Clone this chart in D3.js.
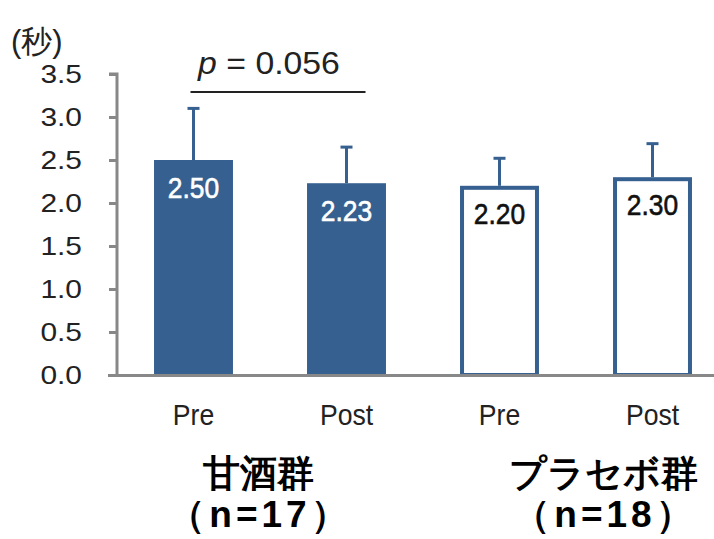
<!DOCTYPE html>
<html>
<head>
<meta charset="utf-8">
<script src="https://cdn.jsdelivr.net/npm/d3@7"></script>
<style>
  html, body { margin: 0; padding: 0; background: #fff; }
  svg { display: block; }
  text { font-family: "Liberation Sans", Arial, sans-serif; }
</style>
</head>
<body>
<svg id="chart" width="714" height="539"></svg>
<script>
// Reaction time (seconds), Pre / Post, per group
const conditions = ["Pre", "Post", "Pre", "Post"];
const groups = ["amazake", "amazake", "placebo", "placebo"];
const means = [2.50, 2.23, 2.20, 2.30];
const sds = [0.60, 0.42, 0.32, 0.39];
const yTicks = [0.0, 0.5, 1.0, 1.5, 2.0, 2.5, 3.0, 3.5];
const groupLabels = [
  { name: "甘酒群", n: "（n=17）", members: [0, 1] },
  { name: "プラセボ群", n: "（n=18）", members: [2, 3] }
];
const pLabel = "0.056";

const blue = "#36608f";
const axisGray = "#888888";

const svg = d3.select("#chart");
const ids = means.map((_, i) => i);

const y = d3.scaleLinear().domain([0, 3.5]).range([375, 74]);
const x = d3.scaleBand().domain(ids)
  .range([117, 117 + 4 * 153])
  .paddingInner(0.484)
  .paddingOuter(0.242);
const cxOf = i => x(i) + x.bandwidth() / 2;

// Bars
svg.append("g").selectAll("rect").data(ids).join("rect")
  .attr("x", i => groups[i] === "amazake" ? x(i) : x(i) + 2)
  .attr("y", i => groups[i] === "amazake" ? y(means[i]) : y(means[i]) + 2)
  .attr("width", i => groups[i] === "amazake" ? x.bandwidth() : x.bandwidth() - 4)
  .attr("height", i => groups[i] === "amazake" ? y(0) - y(means[i]) : y(0) - y(means[i]) - 2)
  .attr("fill", i => groups[i] === "amazake" ? blue : "#fff")
  .attr("stroke", i => groups[i] === "amazake" ? "none" : blue)
  .attr("stroke-width", 4);

// Error bars (upper SD)
const eb = svg.append("g").attr("stroke", blue).attr("stroke-width", 3);
ids.forEach(i => {
  const cx = cxOf(i);
  const top = y(means[i] + sds[i]);
  eb.append("line").attr("x1", cx).attr("x2", cx)
    .attr("y1", y(means[i])).attr("y2", top);
  eb.append("line").attr("x1", cx - 6).attr("x2", cx + 6)
    .attr("y1", top).attr("y2", top);
});

// Value labels inside bars
svg.append("g").selectAll("text").data(ids).join("text")
  .attr("transform", i => `translate(${cxOf(i)},${y(means[i]) + 38}) scale(0.88,1)`)
  .attr("text-anchor", "middle")
  .attr("font-size", 30)
  .attr("fill", i => groups[i] === "amazake" ? "#fff" : "#111")
  .attr("stroke", i => groups[i] === "amazake" ? "#fff" : "#111")
  .attr("stroke-width", 0.6)
  .text(i => means[i].toFixed(2));

// Y axis
const yAxis = d3.axisLeft(y).tickValues(yTicks).tickSize(8)
  .tickFormat(d3.format(".1f"));
const gy = svg.append("g").attr("transform", "translate(117,0)").call(yAxis);
gy.select(".domain").attr("d", "M-8,74H0V376").attr("stroke", axisGray)
  .attr("stroke-width", 3).attr("fill", "none");
gy.selectAll(".tick line").attr("stroke", axisGray).attr("stroke-width", 3);
gy.selectAll(".tick text")
  .attr("x", 0).attr("dy", null).attr("dominant-baseline", "central")
  .attr("text-anchor", "end")
  .attr("transform", "translate(-35,0) scale(1.15,1)")
  .attr("font-size", 26).attr("fill", "#222")
  .attr("font-family", "'Liberation Sans', Arial, sans-serif");

// X axis baseline
svg.append("line").attr("x1", 108).attr("x2", 714)
  .attr("y1", y(0) + 0.5).attr("y2", y(0) + 0.5)
  .attr("stroke", axisGray).attr("stroke-width", 3);

// Condition labels
svg.append("g").selectAll("text").data(ids).join("text")
  .attr("transform", i => `translate(${cxOf(i)},425) scale(0.95,1.05)`)
  .attr("text-anchor", "middle")
  .attr("font-size", 28)
  .attr("fill", "#222")
  .text(i => conditions[i]);

// Group labels
groupLabels.forEach((g, k) => {
  const a = cxOf(g.members[0]);
  const b = cxOf(g.members[1]);
  const cx = k === 0 ? (a + b) / 2 - 12 : (a + b) / 2 + 27;
  const t = svg.append("text")
    .attr("text-anchor", "middle")
    .attr("font-family", "'Noto Sans CJK JP', sans-serif")
    .attr("font-weight", "bold")
    .attr("font-size", 37)
    .attr("fill", "#000");
  t.append("tspan").attr("x", cx).attr("y", 486).text(g.name);
  t.append("tspan").attr("x", cx + 2).attr("y", 527)
    .attr("letter-spacing", 4).text(g.n);
});

// Unit label
svg.append("text")
  .attr("x", 11).attr("y", 52)
  .attr("font-family", "'Noto Sans CJK JP', sans-serif")
  .attr("font-size", 31)
  .attr("fill", "#222")
  .text("(秒)");

// Significance bracket between Pre and Post of the first group
const bx1 = cxOf(0) - 3;
const bx2 = cxOf(1) + 19;
svg.append("line").attr("x1", bx1).attr("x2", bx2)
  .attr("y1", 92).attr("y2", 92)
  .attr("stroke", "#222").attr("stroke-width", 2);
const pt = svg.append("text")
  .attr("transform", `translate(${(bx1 + bx2) / 2 - 9},74) scale(1.09,1)`)
  .attr("text-anchor", "middle")
  .attr("font-size", 31)
  .attr("fill", "#222");
pt.append("tspan").attr("font-style", "italic").text("p");
pt.append("tspan").text(" = " + pLabel);
</script>
</body>
</html>
